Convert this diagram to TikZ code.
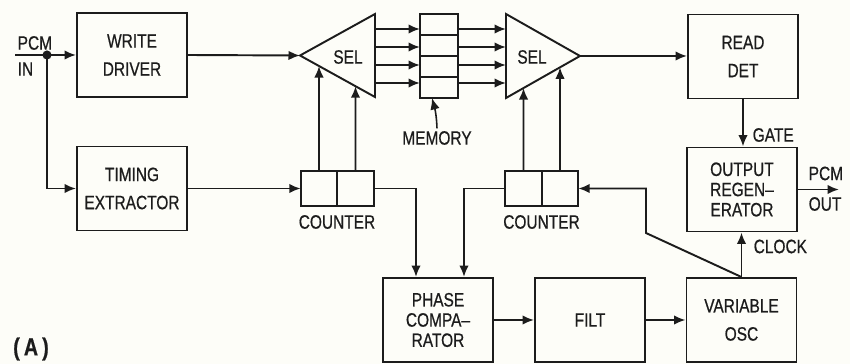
\documentclass[tikz,border=0pt]{standalone}
\usepackage{fontspec}
\setmainfont[FakeStretch=0.8,FakeBold=0.6]{Liberation Sans}
\usepackage{tikz}
\usetikzlibrary{positioning,arrows.meta,calc}
\definecolor{paper}{RGB}{253,253,248}
\definecolor{ink}{RGB}{28,28,28}
\newcommand{\blkfont}{\fontsize{11}{16}\selectfont}
\newcommand{\tightfont}{\fontsize{11}{11.5}\selectfont}

\begin{document}
\begin{tikzpicture}[x=0.02cm,y=-0.02cm,>={Latex[length=2.3mm,width=1.9mm]},
    line width=1.1pt, color=ink,
    blk/.style={draw, minimum width=110*0.02cm, minimum height=84*0.02cm,
        inner sep=0pt, align=center, font=\blkfont},
    cell/.style={draw, minimum width=36.5*0.02cm, minimum height=35*0.02cm,
        inner sep=0pt, outer sep=0pt},
    memcell/.style={draw, minimum width=38*0.02cm, minimum height=21*0.02cm,
        inner sep=0pt, outer sep=0pt},
    lbl/.style={font=\fontsize{11}{13}\selectfont, inner sep=1pt},
    arr/.style={->}]

% -------------------------
% Page
% -------------------------
\fill[paper] (0,0) rectangle (850,364);
\useasboundingbox (0,0) rectangle (850,364);

% -------------------------
% Blocks
% -------------------------
\node[blk] (wd) at (132,55) {WRITE\\DRIVER};
\node[blk] (te) at (132,188.5) {TIMING\\EXTRACTOR};
\node[blk] (readdet) at (743,56.5) {READ\\DET};
\node[blk, font=\tightfont] (outreg) at (742,189.5) {OUTPUT\\REGEN--\\ERATOR};
\node[blk, font=\tightfont] (phase) at (438,320) {PHASE\\COMPA--\\RATOR};
\node[blk] (filt) at (590,320) {FILT};
\node[blk] (vosc) at (741.5,320) {VARIABLE\\OSC};

% counters
\node[cell] (cnta1) at (319,188.5) {};
\node[cell, right=0pt of cnta1] (cnta2) {};
\node[cell] (cntb1) at (523.5,188.5) {};
\node[cell, right=0pt of cntb1] (cntb2) {};
\node[lbl] (cntalbl) at (337,222) {COUNTER};
\node[lbl] (cntblbl) at (541.5,222) {COUNTER};

% memory
\node[memcell] (mem1) at (439,24.5) {};
\node[memcell, below=0pt of mem1] (mem2) {};
\node[memcell, below=0pt of mem2] (mem3) {};
\node[memcell, below=0pt of mem3] (mem4) {};
\node[lbl] (memlbl) at (437,138) {MEMORY};

% selectors
\coordinate (sel1-tip) at (300,55.5);
\coordinate (sel1-top) at (375,14);
\coordinate (sel1-bot) at (375,97);
\draw[line join=miter] (sel1-tip) -- (sel1-top) -- (sel1-bot) -- cycle;
\node[lbl] (sel1) at (348,57) {SEL};

\coordinate (sel2-tip) at (580,56);
\coordinate (sel2-top) at (506,14);
\coordinate (sel2-bot) at (506,98);
\draw[line join=miter] (sel2-tip) -- (sel2-top) -- (sel2-bot) -- cycle;
\node[lbl] (sel2) at (532,57) {SEL};

% -------------------------
% Input
% -------------------------
\coordinate (pcmin) at (15,55);
\coordinate (split) at (47,55);
\node[lbl, anchor=west] (pcminlbl) at (15,43) {PCM};
\node[lbl, anchor=west] (inlbl) at (15,69) {IN};
\draw (pcmin) -- (split);
\fill (split) circle (2.6pt);
\draw[arr] (split) -- (wd.west);
\draw[arr] (split) |- (te.west);

% -------------------------
% Write path
% -------------------------
\draw[arr] (wd.east) -- (sel1-tip);
\draw[arr] (te.east) -- (cnta1.west);
\draw[arr] (cnta1.north) -- (intersection of cnta1.north--cnta1.center and sel1-tip--sel1-bot);
\draw[arr] (cnta2.north) -- (intersection of cnta2.north--cnta2.center and sel1-tip--sel1-bot);

\foreach \i/\s in {1/-4.5,2/-1.5,3/1.5,4/4.5} {
    \coordinate (memin\i) at ([yshift=\s*0.02cm]mem\i.west);
    \coordinate (memout\i) at ([yshift=\s*0.02cm]mem\i.east);
    \draw[arr] (memin\i -| sel1-top) -- (memin\i);
    \draw[arr] (memout\i) -- (memout\i -| sel2-top);
}
\draw[arr, line width=0.9pt] (memlbl.north) to[out=92,in=-75] ([xshift=-7*0.02cm]mem4.south);

% -------------------------
% Read path
% -------------------------
\draw[arr] (cntb1.north) -- (intersection of cntb1.north--cntb1.center and sel2-tip--sel2-bot);
\draw[arr] (cntb2.north) -- (intersection of cntb2.north--cntb2.center and sel2-tip--sel2-bot);
\draw[arr] (sel2-tip) -- (readdet.west |- sel2-tip);
\draw[arr] (readdet.south) -- (readdet.south |- outreg.north);
\node[lbl, anchor=west] (gatelbl) at (750,135) {GATE};

\coordinate (pcmout) at (839,189.5);
\draw[arr] (outreg.east) -- (pcmout);
\node[lbl, anchor=west] (pcmoutlbl) at (806,173.5) {PCM};
\node[lbl, anchor=west] (outlbl) at (806,204) {OUT};

% -------------------------
% Phase loop
% -------------------------
\draw[arr] (cnta2.east) -| ([xshift=-22*0.02cm]phase.north);
\draw[arr] (cntb1.west) -| ([xshift=26*0.02cm]phase.north);
\draw[arr] (phase.east) -- (filt.west);
\draw[arr] (filt.east) -- (vosc.west);
\draw[arr] (vosc.north) -- (vosc.north |- outreg.south);
\node[lbl, anchor=west] (clocklbl) at (751,246.5) {CLOCK};
\coordinate (kink) at (646,233);
\draw[arr] (vosc.north) -- (kink) |- (cntb2.east);

\node[font=\fontsize{14}{14}\bfseries, inner sep=0pt] (tag) at (31,349) {(\,A\,)};

\end{tikzpicture}
\end{document}
